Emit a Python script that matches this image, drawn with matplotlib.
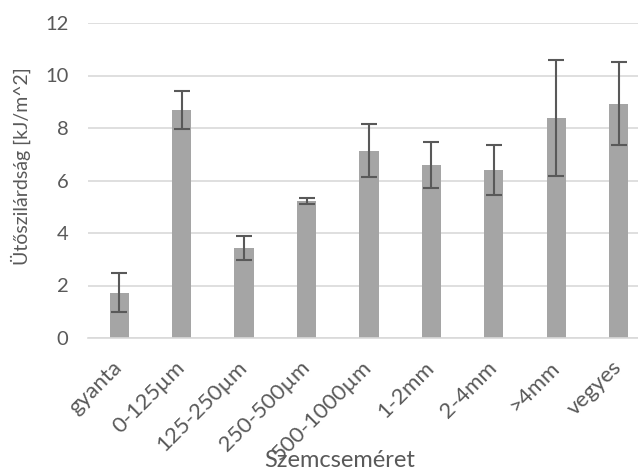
import numpy as np
import matplotlib.pyplot as plt

categories = ['gyanta', '0-125µm', '125-250µm', '250-500µm', '500-1000µm',
              '1-2mm', '2-4mm', '>4mm', 'vegyes']
values = [1.72, 8.69, 3.42, 5.22, 7.14, 6.59, 6.40, 8.37, 8.93]
errors = [0.74, 0.73, 0.45, 0.13, 1.02, 0.89, 0.97, 2.21, 1.58]

plt.rcParams['font.family'] = ['Lato', 'DejaVu Sans']
text_color = '#595959'

fig = plt.figure(figsize=(6.38, 4.72), dpi=100)
ax = fig.add_axes([88 / 638, 134 / 472, 1 - 88 / 638, (338 - 23) / 472])

x = np.arange(len(categories))
ax.bar(x, values, width=0.31, color='#a5a5a5', zorder=2)
ax.errorbar(x, values, yerr=errors, fmt='none', ecolor='#595959',
            elinewidth=1.5, capsize=5.5, capthick=1.5, zorder=3)

ax.set_ylim(0, 12)
ax.set_xlim(-0.5, 8.31)
ax.set_yticks(range(0, 13, 2))
ax.yaxis.grid(True, color='#d9d9d9', linewidth=1.2, zorder=0)
ax.set_axisbelow(True)
for s in ['top', 'right', 'left']:
    ax.spines[s].set_visible(False)
ax.spines['bottom'].set_color('#d9d9d9')
ax.spines['bottom'].set_linewidth(1.2)

ax.set_xticks(x)
ax.set_xticklabels(categories, rotation=45, ha='right', va='center',
                   rotation_mode='anchor', fontsize=16, color=text_color)
ax.tick_params(axis='y', length=0, labelsize=14.5, colors=text_color, pad=14)
ax.tick_params(axis='x', length=0, colors=text_color, pad=19)

ax.set_ylabel('Ütőszilárdság [kJ/m^2]', fontsize=14, color=text_color, va='center')
ax.yaxis.set_label_coords(-0.122, 0.546)
ax.set_xlabel('Szemcseméret', fontsize=17, color=text_color, va='baseline')
ax.xaxis.set_label_coords(0.458, -0.41)

fig.savefig('out.png', dpi=100)
